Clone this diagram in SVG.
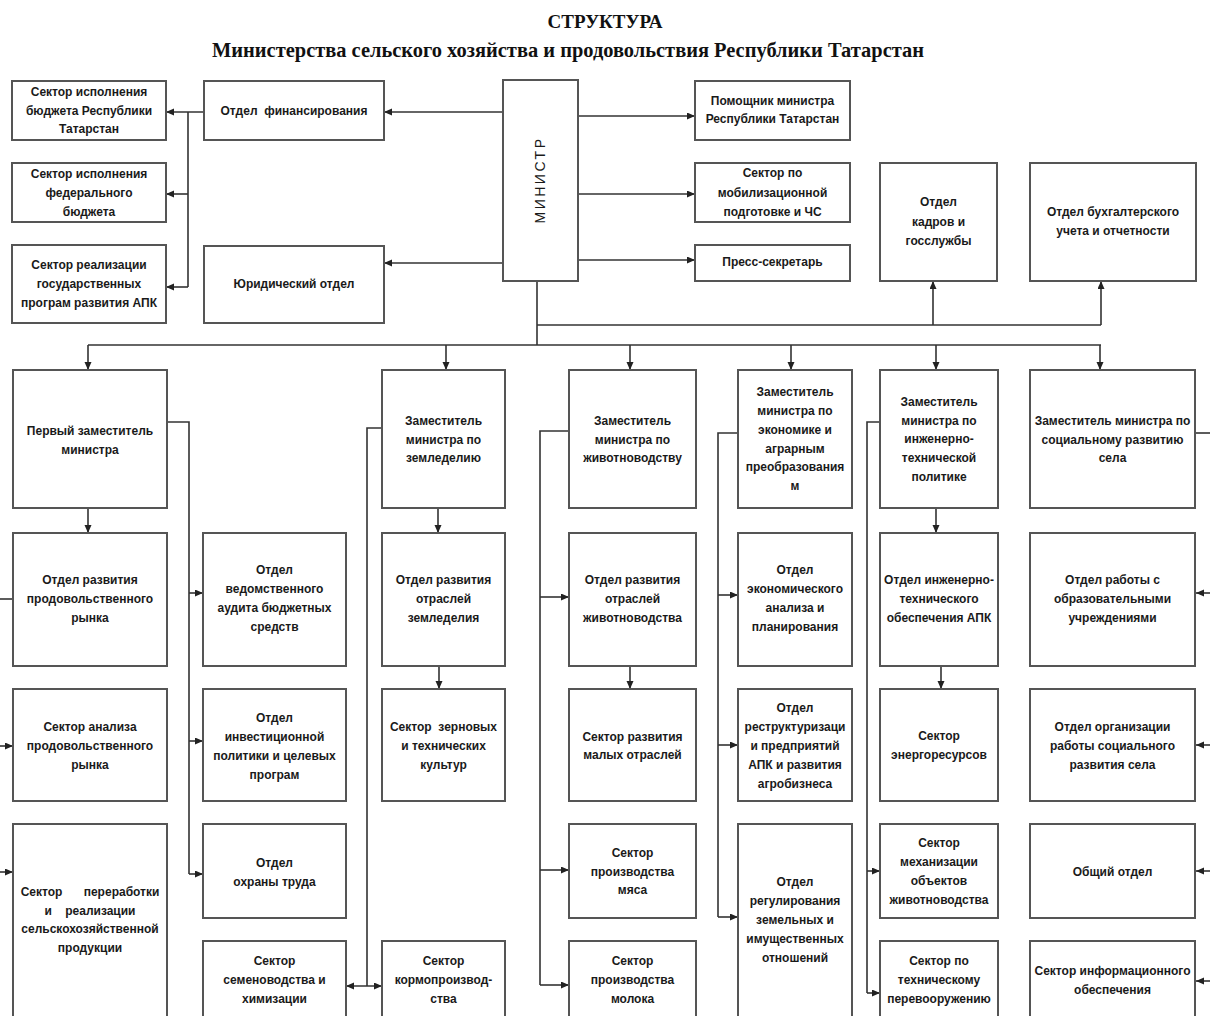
<svg xmlns="http://www.w3.org/2000/svg" width="1210" height="1016" viewBox="0 0 1210 1016">
<defs>
<style>
.box{fill:#fff;stroke:#555;stroke-width:2}
.t{font-family:"Liberation Sans",Arial,sans-serif;font-size:12px;font-weight:bold;fill:#1a1a1a;text-anchor:middle}
.ttl{font-family:"Liberation Serif","Times New Roman",serif;font-weight:bold;fill:#111;text-anchor:middle}
.ln{stroke:#333;stroke-width:1.6;fill:none}
.ar{stroke:#333;stroke-width:1.6;fill:none;marker-end:url(#ah)}
</style>
<marker id="ah" markerUnits="userSpaceOnUse" markerWidth="8" markerHeight="8" refX="8" refY="3.5" orient="auto-start-reverse">
<path d="M0,0 L8,3.5 L0,7 z" fill="#222"/>
</marker>
</defs>
<rect width="1210" height="1016" fill="#fff"/>
<g id="title">
<text class="ttl" x="605" y="28" font-size="19">СТРУКТУРА</text>
<text class="ttl" x="568" y="57" font-size="21" textLength="712" lengthAdjust="spacingAndGlyphs">Министерства сельского хозяйства и продовольствия Республики Татарстан</text>
</g>

<g id="connectors">
<path class="ar" d="M503,112 H384"/>
<path class="ar" d="M503,263 H384"/>
<path class="ar" d="M204,112 H166"/>
<path class="ln" d="M188,112 V287"/>
<path class="ar" d="M188,194 H166"/>
<path class="ar" d="M188,287 H166"/>
<path class="ar" d="M578,116 H695"/>
<path class="ar" d="M578,194 H695"/>
<path class="ar" d="M578,260 H695"/>
<path class="ln" d="M537,281 V345"/>
<path class="ln" d="M537,325 H1101"/>
<path class="ar" d="M933,325 V281"/>
<path class="ar" d="M1101,325 V281"/>
<path class="ln" d="M88,345 H1101"/>
<path class="ar" d="M88,345 V370"/>
<path class="ar" d="M446,345 V370"/>
<path class="ar" d="M630,345 V370"/>
<path class="ar" d="M791,345 V370"/>
<path class="ar" d="M936,345 V370"/>
<path class="ar" d="M1100,345 V370"/>
<path class="ar" d="M88,508 V533"/>
<path class="ln" d="M167,422 H189 V874"/>
<path class="ar" d="M189,593 H203"/>
<path class="ar" d="M189,741 H203"/>
<path class="ar" d="M189,874 H203"/>
<path class="ln" d="M0,599 H13"/>
<path class="ar" d="M0,746 H13"/>
<path class="ar" d="M0,872 H13"/>
<path class="ln" d="M382,428 H367 V986"/>
<path class="ar" d="M346,986 H382" marker-start="url(#ah)"/>
<path class="ar" d="M438,508 V533"/>
<path class="ar" d="M439,666 V689"/>
<path class="ln" d="M569,431 H540 V985"/>
<path class="ar" d="M540,597 H569"/>
<path class="ar" d="M540,870 H569"/>
<path class="ar" d="M540,985 H569"/>
<path class="ar" d="M630,666 V689"/>
<path class="ln" d="M738,433 H718 V917"/>
<path class="ar" d="M718,595 H738"/>
<path class="ar" d="M718,745 H738"/>
<path class="ar" d="M718,917 H738"/>
<path class="ln" d="M880,422 H867 V993"/>
<path class="ar" d="M867,871 H880"/>
<path class="ar" d="M867,993 H880"/>
<path class="ar" d="M936,508 V533"/>
<path class="ar" d="M941,666 V689"/>
<path class="ln" d="M1195,433 H1210"/>
<path class="ar" d="M1210,593 H1196"/>
<path class="ar" d="M1210,745 H1196"/>
<path class="ar" d="M1210,871 H1196"/>
<path class="ar" d="M1210,981 H1196"/>
</g>

<g id="a1"><rect class="box" x="12" y="81" width="154" height="59"/><text class="t"><tspan x="89" y="96">Сектор исполнения</tspan><tspan x="89" y="115">бюджета Республики</tspan><tspan x="89" y="133">Татарстан</tspan></text></g>
<g id="a2"><rect class="box" x="12" y="163" width="154" height="59"/><text class="t"><tspan x="89" y="178">Сектор исполнения</tspan><tspan x="89" y="197">федерального</tspan><tspan x="89" y="216">бюджета</tspan></text></g>
<g id="a3"><rect class="box" x="12" y="245" width="154" height="78"/><text class="t"><tspan x="89" y="269">Сектор реализации</tspan><tspan x="89" y="288">государственных</tspan><tspan x="89" y="307">програм развития АПК</tspan></text></g>
<g id="b1"><rect class="box" x="204" y="81" width="180" height="59"/><text class="t" xml:space="preserve"><tspan x="294" y="115">Отдел  финансирования</tspan></text></g>
<g id="b2"><rect class="box" x="204" y="246" width="180" height="77"/><text class="t"><tspan x="294" y="288">Юридический отдел</tspan></text></g>
<g id="minister"><rect class="box" x="503" y="80" width="75" height="201"/><text class="t" style="font-weight:normal;font-size:14px;letter-spacing:2.5px" transform="translate(545,180) rotate(-90)" x="0" y="0">МИНИСТР</text></g>
<g id="c1"><rect class="box" x="695" y="81" width="155" height="59"/><text class="t"><tspan x="772.5" y="105">Помощник министра</tspan><tspan x="772.5" y="123">Республики Татарстан</tspan></text></g>
<g id="c2"><rect class="box" x="695" y="163" width="155" height="59"/><text class="t"><tspan x="772.5" y="177">Сектор по</tspan><tspan x="772.5" y="197">мобилизационной</tspan><tspan x="772.5" y="216">подготовке и ЧС</tspan></text></g>
<g id="c3"><rect class="box" x="695" y="245" width="155" height="36"/><text class="t"><tspan x="772.5" y="266">Пресс-секретарь</tspan></text></g>
<g id="d1"><rect class="box" x="880" y="163" width="117" height="118"/><text class="t"><tspan x="938.5" y="206">Отдел</tspan><tspan x="938.5" y="226">кадров и</tspan><tspan x="938.5" y="245">госслужбы</tspan></text></g>
<g id="d2"><rect class="box" x="1030" y="163" width="166" height="118"/><text class="t"><tspan x="1113" y="216">Отдел бухгалтерского</tspan><tspan x="1113" y="235">учета и отчетности</tspan></text></g>

<g id="e1"><rect class="box" x="13" y="370" width="154" height="138"/><text class="t"><tspan x="90" y="435">Первый заместитель</tspan><tspan x="90" y="454">министра</tspan></text></g>
<g id="e2"><rect class="box" x="382" y="370" width="123" height="138"/><text class="t"><tspan x="443.5" y="425">Заместитель</tspan><tspan x="443.5" y="444">министра по</tspan><tspan x="443.5" y="462">земледелию</tspan></text></g>
<g id="e3"><rect class="box" x="569" y="370" width="127" height="138"/><text class="t"><tspan x="632.5" y="425">Заместитель</tspan><tspan x="632.5" y="444">министра по</tspan><tspan x="632.5" y="462">животноводству</tspan></text></g>
<g id="e4"><rect class="box" x="738" y="370" width="114" height="138"/><text class="t"><tspan x="795" y="396">Заместитель</tspan><tspan x="795" y="415">министра по</tspan><tspan x="795" y="434">экономике и</tspan><tspan x="795" y="453">аграрным</tspan><tspan x="795" y="471">преобразования</tspan><tspan x="795" y="490">м</tspan></text></g>
<g id="e5"><rect class="box" x="880" y="370" width="118" height="138"/><text class="t"><tspan x="939" y="406">Заместитель</tspan><tspan x="939" y="425">министра по</tspan><tspan x="939" y="443">инженерно-</tspan><tspan x="939" y="462">технической</tspan><tspan x="939" y="481">политике</tspan></text></g>
<g id="e6"><rect class="box" x="1030" y="370" width="165" height="138"/><text class="t"><tspan x="1112.5" y="425">Заместитель министра по</tspan><tspan x="1112.5" y="444">социальному развитию</tspan><tspan x="1112.5" y="462">села</tspan></text></g>

<g id="f1"><rect class="box" x="13" y="533" width="154" height="133"/><text class="t"><tspan x="90" y="584">Отдел развития</tspan><tspan x="90" y="603">продовольственного</tspan><tspan x="90" y="622">рынка</tspan></text></g>
<g id="g1"><rect class="box" x="203" y="533" width="143" height="133"/><text class="t"><tspan x="274.5" y="574">Отдел</tspan><tspan x="274.5" y="593">ведомственного</tspan><tspan x="274.5" y="612">аудита бюджетных</tspan><tspan x="274.5" y="631">средств</tspan></text></g>
<g id="h1"><rect class="box" x="382" y="533" width="123" height="133"/><text class="t"><tspan x="443.5" y="584">Отдел развития</tspan><tspan x="443.5" y="603">отраслей</tspan><tspan x="443.5" y="622">земледелия</tspan></text></g>
<g id="i1"><rect class="box" x="569" y="533" width="127" height="133"/><text class="t"><tspan x="632.5" y="584">Отдел развития</tspan><tspan x="632.5" y="603">отраслей</tspan><tspan x="632.5" y="622">животноводства</tspan></text></g>
<g id="j1"><rect class="box" x="738" y="533" width="114" height="133"/><text class="t"><tspan x="795" y="574">Отдел</tspan><tspan x="795" y="593">экономического</tspan><tspan x="795" y="612">анализа и</tspan><tspan x="795" y="631">планирования</tspan></text></g>
<g id="k1"><rect class="box" x="880" y="533" width="118" height="133"/><text class="t"><tspan x="939" y="584">Отдел инженерно-</tspan><tspan x="939" y="603">технического</tspan><tspan x="939" y="622">обеспечения АПК</tspan></text></g>
<g id="l1"><rect class="box" x="1030" y="533" width="165" height="133"/><text class="t"><tspan x="1112.5" y="584">Отдел работы с</tspan><tspan x="1112.5" y="603">образовательными</tspan><tspan x="1112.5" y="622">учреждениями</tspan></text></g>

<g id="f2"><rect class="box" x="13" y="689" width="154" height="112"/><text class="t"><tspan x="90" y="731">Сектор анализа</tspan><tspan x="90" y="750">продовольственного</tspan><tspan x="90" y="769">рынка</tspan></text></g>
<g id="g2"><rect class="box" x="203" y="689" width="143" height="112"/><text class="t"><tspan x="274.5" y="722">Отдел</tspan><tspan x="274.5" y="741">инвестиционной</tspan><tspan x="274.5" y="760">политики и целевых</tspan><tspan x="274.5" y="779">програм</tspan></text></g>
<g id="h2"><rect class="box" x="382" y="689" width="123" height="112"/><text class="t" xml:space="preserve"><tspan x="443.5" y="731">Сектор  зерновых</tspan><tspan x="443.5" y="750">и технических</tspan><tspan x="443.5" y="769">культур</tspan></text></g>
<g id="i2"><rect class="box" x="569" y="689" width="127" height="112"/><text class="t"><tspan x="632.5" y="741">Сектор развития</tspan><tspan x="632.5" y="759">малых отраслей</tspan></text></g>
<g id="j2"><rect class="box" x="738" y="689" width="114" height="112"/><text class="t"><tspan x="795" y="712">Отдел</tspan><tspan x="795" y="731">реструктуризаци</tspan><tspan x="795" y="750">и предприятий</tspan><tspan x="795" y="769">АПК и развития</tspan><tspan x="795" y="788">агробизнеса</tspan></text></g>
<g id="k2"><rect class="box" x="880" y="689" width="118" height="112"/><text class="t"><tspan x="939" y="740">Сектор</tspan><tspan x="939" y="759">энергоресурсов</tspan></text></g>
<g id="l2"><rect class="box" x="1030" y="689" width="165" height="112"/><text class="t"><tspan x="1112.5" y="731">Отдел организации</tspan><tspan x="1112.5" y="750">работы социального</tspan><tspan x="1112.5" y="769">развития села</tspan></text></g>

<g id="f3"><rect class="box" x="13" y="824" width="154" height="200"/><text class="t"><tspan x="90" y="896" style="word-spacing:18px">Сектор переработки</tspan><tspan x="90" y="915" style="word-spacing:10px">и реализации</tspan><tspan x="90" y="933">сельскохозяйственной</tspan><tspan x="90" y="952">продукции</tspan></text></g>
<g id="g3"><rect class="box" x="203" y="824" width="143" height="94"/><text class="t"><tspan x="274.5" y="867">Отдел</tspan><tspan x="274.5" y="886">охраны труда</tspan></text></g>
<g id="i3"><rect class="box" x="569" y="824" width="127" height="94"/><text class="t"><tspan x="632.5" y="857">Сектор</tspan><tspan x="632.5" y="876">производства</tspan><tspan x="632.5" y="894">мяса</tspan></text></g>
<g id="j3"><rect class="box" x="738" y="824" width="114" height="200"/><text class="t"><tspan x="795" y="886">Отдел</tspan><tspan x="795" y="905">регулирования</tspan><tspan x="795" y="924">земельных и</tspan><tspan x="795" y="943">имущественных</tspan><tspan x="795" y="962">отношений</tspan></text></g>
<g id="k3"><rect class="box" x="880" y="824" width="118" height="94"/><text class="t"><tspan x="939" y="847">Сектор</tspan><tspan x="939" y="866">механизации</tspan><tspan x="939" y="885">объектов</tspan><tspan x="939" y="904">животноводства</tspan></text></g>
<g id="l3"><rect class="box" x="1030" y="824" width="165" height="94"/><text class="t"><tspan x="1112.5" y="876">Общий отдел</tspan></text></g>

<g id="g4"><rect class="box" x="203" y="941" width="143" height="80"/><text class="t"><tspan x="274.5" y="965">Сектор</tspan><tspan x="274.5" y="984">семеноводства и</tspan><tspan x="274.5" y="1003">химизации</tspan></text></g>
<g id="h3"><rect class="box" x="382" y="941" width="123" height="80"/><text class="t"><tspan x="443.5" y="965">Сектор</tspan><tspan x="443.5" y="984">кормопроизвод-</tspan><tspan x="443.5" y="1003">ства</tspan></text></g>
<g id="i4"><rect class="box" x="569" y="941" width="127" height="80"/><text class="t"><tspan x="632.5" y="965">Сектор</tspan><tspan x="632.5" y="984">производства</tspan><tspan x="632.5" y="1003">молока</tspan></text></g>
<g id="k4"><rect class="box" x="880" y="941" width="118" height="80"/><text class="t"><tspan x="939" y="965">Сектор по</tspan><tspan x="939" y="984">техническому</tspan><tspan x="939" y="1003">перевооружению</tspan></text></g>
<g id="l4"><rect class="box" x="1030" y="941" width="165" height="80"/><text class="t"><tspan x="1112.5" y="975">Сектор информационного</tspan><tspan x="1112.5" y="994">обеспечения</tspan></text></g>
</svg>
